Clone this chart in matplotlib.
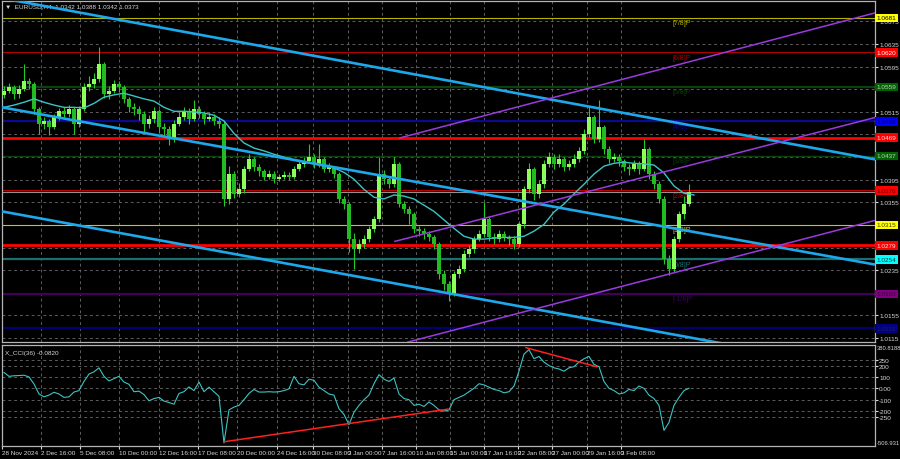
import numpy as np
import matplotlib
matplotlib.use("Agg")
import matplotlib.pyplot as plt
import matplotlib.transforms as mtransforms

plt.rcParams['font.family'] = ['Liberation Sans', 'DejaVu Sans']

# candles, prices in pips above 1.0000 (one candle per slot)
close = [552, 559, 546, 555, 569, 564, 520, 493, 499, 488, 506, 516, 511, 520, 493, 520, 559, 564, 573, 599,
         546, 552, 564, 559, 538, 523, 520, 511, 493, 502, 516, 488, 485, 467, 493, 506, 516, 502, 520, 511,
         502, 506, 499, 493, 361, 405, 370, 378, 414, 432, 417, 410, 400, 405, 396, 400, 403, 400, 414, 423,
         428, 435, 423, 432, 414, 417, 405, 361, 352, 290, 272, 281, 290, 308, 325, 405, 396, 387, 423, 352,
         343, 334, 308, 304, 299, 293, 281, 228, 210, 193, 228, 237, 263, 272, 290, 299, 325, 293, 290, 299,
         293, 290, 281, 316, 378, 414, 370, 387, 423, 435, 423, 432, 417, 423, 432, 446, 476, 506, 467, 488,
         449, 432, 435, 428, 417, 414, 423, 414, 449, 405, 387, 361, 254, 237, 290, 334, 352, 373]
high = [560, 566, 562, 562, 599, 575, 568, 524, 506, 503, 512, 522, 524, 528, 524, 526, 566, 578, 584, 630,
        604, 560, 572, 570, 562, 542, 530, 526, 516, 510, 524, 520, 495, 490, 500, 514, 524, 522, 536, 526,
        516, 514, 512, 506, 498, 420, 410, 390, 420, 440, 436, 422, 414, 412, 410, 406, 410, 408, 420, 430,
        436, 458, 440, 458, 436, 424, 420, 408, 366, 356, 300, 290, 298, 314, 330, 435, 412, 400, 435, 426,
        358, 348, 338, 314, 310, 304, 298, 284, 236, 216, 234, 244, 270, 280, 296, 306, 355, 330, 300, 306,
        304, 298, 296, 322, 384, 424, 418, 394, 430, 444, 440, 440, 436, 430, 440, 452, 484, 525, 510, 536,
        492, 454, 442, 440, 432, 422, 430, 428, 467, 452, 410, 392, 366, 262, 296, 340, 366, 388]
low = [540, 548, 538, 540, 552, 556, 512, 476, 485, 474, 484, 500, 504, 506, 476, 488, 516, 552, 558, 568,
       540, 538, 548, 550, 530, 514, 510, 500, 480, 486, 496, 478, 470, 456, 462, 490, 500, 494, 498, 504,
       494, 498, 492, 486, 348, 352, 362, 364, 372, 410, 410, 402, 394, 396, 390, 392, 396, 394, 396, 410,
       418, 424, 416, 418, 408, 408, 398, 354, 344, 268, 237, 266, 274, 284, 302, 320, 388, 380, 382, 346,
       336, 316, 300, 296, 290, 286, 272, 220, 200, 180, 190, 222, 232, 258, 266, 286, 294, 286, 282, 284,
       286, 280, 272, 276, 310, 372, 360, 362, 380, 418, 414, 418, 410, 412, 418, 426, 440, 470, 460, 462,
       440, 424, 426, 420, 410, 404, 410, 406, 410, 396, 378, 354, 246, 226, 232, 284, 326, 348]

# moving average, one value every second slot
ma = [523, 527, 532, 538, 532, 527, 523, 523, 522, 530, 541, 545, 548, 543, 538, 534, 523, 516, 516, 515,
      513, 509, 499, 477, 460, 451, 446, 440, 435, 430, 426, 423, 419, 416, 408, 396, 378, 364, 361, 368,
      366, 361, 350, 339, 324, 309, 295, 290, 290, 292, 293, 293, 295, 304, 316, 338, 352, 370, 387, 405,
      419, 424, 426, 424, 423, 421, 407, 384, 371, 368]

cci = [140, 105, 110, 112, 115, 100, 38, -50, -75, -60, -35, -50, -80, -75, -33, -20, 60, 125, 145, 180,
       105, 65, 85, 105, 55, 35, -30, -25, -55, -110, -90, -80, -112, -125, -140, -45, -30, 12, -20, 55,
       -30, 10, -30, -70, -480, -190, -165, -150, -100, -45, -10, -33, -33, -30, -33, -30, -20, -5, 105, 40,
       30, 80, 70, 10, -20, -50, -60, -180, -230, -320, -210, -150, -100, -60, 40, 120, 80, 60, 90, -50,
       -90, -100, -150, -140, -160, -120, -150, -190, -200, -190, -100, -80, -60, -30, 0, 40, 30, 10, -10, -20,
       -40, -30, 20, 150, 300, 340, 260, 280, 230, 200, 180, 170, 150, 180, 190, 230, 260, 280, 210, 190,
       60, 0, -20, -50, -40, -10, -20, 20, 0, -60, -90, -150, -370, -300, -150, -80, -20, 0]

date_pos = [-0.4, 7.4, 15.2, 23, 31, 38.8, 46.6, 54.6, 61.8, 68.8, 75.6, 82.4, 89.2, 96, 102.8, 109.6, 116.6, 123.4]
date_lbl = ["28 Nov 2024", "2 Dec 16:00", "5 Dec 08:00", "10 Dec 00:00", "12 Dec 16:00", "17 Dec 08:00",
            "20 Dec 00:00", "24 Dec 16:00", "30 Dec 08:00", "3 Jan 00:00", "7 Jan 16:00", "10 Jan 08:00",
            "15 Jan 00:00", "17 Jan 16:00", "22 Jan 08:00", "27 Jan 00:00", "29 Jan 16:00", "3 Feb 08:00"]

price_ticks = [1.0675, 1.0635, 1.0595, 1.0555, 1.0515, 1.0475, 1.0435, 1.0395, 1.0355, 1.0315, 1.0275,
               1.0235, 1.0195, 1.0155, 1.0115]
# labels that the level boxes hide are left out
price_hidden = [1.0555, 1.0475, 1.0435, 1.0315, 1.0275, 1.0195]

# murrey levels: value, line colour, width, label, box colour, box text colour
levels = [
    (1.0681, '#b4b400', 0.8, '[7/8]P', '#ffff00', 'black'),
    (1.0620, '#b00000', 0.8, '[6/8]P', '#ff0000', 'white'),
    (1.0559, '#0c400c', 1.6, '[5/8]P', '#006400', '#c8c8c8'),
    (1.0498, '#0a0a8c', 1.6, '[4/8]P', '#0000ff', '#000060'),
    (1.0437, '#0c400c', 1.0, '[3/8]P', '#006400', '#c8c8c8'),
    (1.0376, '#c00000', 0.8, '[2/8]P', '#ff0000', '#600000'),
    (1.0315, '#c8c800', 0.8, '[1/8]P', '#ffff00', '#404000'),
    (1.0254, '#1a7070', 1.6, '[0/8]P', '#00ffff', '#004040'),
    (1.0193, '#40005a', 1.6, '[-1/8]P', '#800080', '#30003a'),
    (1.0132, '#00006e', 1.6, '[-2/8]P', '#000080', '#202060'),
]
sr_levels = [1.0469, 1.0279]
last_price = 1.0373

blue_lines = [((-0.4, 1.0716), (174.2, 1.0431)),
              ((-0.4, 1.0523), (174.2, 1.0245)),
              ((-0.4, 1.0339), (174.2, 1.0056))]
purple_lines = [((79.2, 1.0469), (174.2, 1.0690)),
                ((78.2, 1.0286), (174.2, 1.0505)),
                ((80.8, 1.0108), (174.2, 1.0323))]
cci_red = [((44, -470), (88.8, -183)), ((104.4, 357), (118.6, 189))]

GRID = '#5c5c5c'
FG = '#d8d8d8'
FS = 4.6

fig = plt.figure(figsize=(9, 4.6), dpi=100, facecolor='black')
ax = fig.add_axes([0.0022, 0.2543, 0.9700, 0.7413], facecolor='black')
ax2 = fig.add_axes([0.0022, 0.0283, 0.9700, 0.2196], facecolor='black')

cl = np.array(close) / 10000 + 1
hi = np.array(high) / 10000 + 1
lo = np.array(low) / 10000 + 1
op = np.concatenate([[cl[0] - 0.0007], cl[:-1]])
idx = np.arange(len(cl))

ax.set_xlim(-0.4, 174.2)
ax.set_ylim(1.0108, 1.0711)

for p in price_ticks:
    ax.axhline(p, color=GRID, lw=0.7, ls=(0, (3, 3)), zorder=0)
for d in date_pos[1:]:
    ax.axvline(d, color=GRID, lw=0.7, ls=(0, (3, 3)), zorder=0)
    ax2.axvline(d, color=GRID, lw=0.7, ls=(0, (3, 3)), zorder=0)

trans = mtransforms.blended_transform_factory(ax.transAxes, ax.transData)
for val, col, lw, lbl, box, tc in levels:
    ax.axhline(val, color=col, lw=lw, zorder=1)
    ax.text(133.8, val - 0.0002, lbl, color=col, fontsize=FS + 0.4, va='top', ha='left', zorder=2)
ax.axhline(last_price, color='#909090', lw=0.8, zorder=1)
for v in sr_levels:
    ax.axhline(v, color='#ff0000', lw=2.0, zorder=1)

# candles
bull = cl >= op
ax.vlines(idx, lo, hi, color='#22cc22', lw=0.8, zorder=3)
ax.bar(idx[bull], (cl - op)[bull], bottom=op[bull], width=0.75, color='#8cff5a', zorder=4)
ax.bar(idx[~bull], (op - cl)[~bull], bottom=cl[~bull], width=0.75, color='#22bb22', zorder=4)

ax.plot(np.arange(len(ma)) * 2, np.array(ma) / 10000 + 1, color='#3cc4c4', lw=1.0, zorder=5)

for (x0, y0), (x1, y1) in blue_lines:
    ax.plot([x0, x1], [y0, y1], color='#1ea8ec', lw=1.9, zorder=6, solid_capstyle='butt')
for (x0, y0), (x1, y1) in purple_lines:
    ax.plot([x0, x1], [y0, y1], color='#9a3be0', lw=1.1, zorder=6)

ax.yaxis.tick_right()
ax.set_yticks(price_ticks)
ax.set_yticklabels(['' if p in price_hidden else '%.4f' % p for p in price_ticks])
ax.tick_params(axis='y', colors=FG, labelsize=FS, length=2, pad=1)
ax.set_xticks([])
for s in ax.spines.values():
    s.set_color('#b4b4b4')
    s.set_linewidth(0.9)

for val, col, lw, lbl, box, tc in levels:
    ax.text(1.002, val, '%.4f' % val, transform=trans, fontsize=FS, color=tc, va='center', ha='left',
            bbox=dict(boxstyle='square,pad=0.3', fc=box, ec='none'), zorder=10, clip_on=False)
for v in sr_levels:
    ax.text(1.002, v, '%.4f' % v, transform=trans, fontsize=FS, color='#ffe0e0', va='center', ha='left',
            bbox=dict(boxstyle='square,pad=0.3', fc='#ff0000', ec='none'), zorder=10, clip_on=False)

ax.text(0.004, 0.994, '\u25bc  EURUSD,H4  1.0342 1.0388 1.0342 1.0373', transform=ax.transAxes,
        fontsize=FS, color=FG, va='top', ha='left')

# CCI panel
ax2.set_xlim(-0.4, 174.2)
ax2.set_ylim(-506.931, 380.8188)
cci_ticks = [250, 200, 100, 0, -100, -200, -250]
for t in cci_ticks:
    ax2.axhline(t, color=GRID, lw=0.7, ls=(0, (3, 3)), zorder=0)
ax2.plot(idx, cci, color='#3cc4c4', lw=0.8, zorder=3)
for (x0, y0), (x1, y1) in cci_red:
    ax2.plot([x0, x1], [y0, y1], color='#ff2020', lw=1.1, zorder=4)
ax2.yaxis.tick_right()
ax2.set_yticks(cci_ticks)
ax2.set_yticklabels(['250', '200', '100', '0.00', '-100', '-200', '-250'])
ax2.tick_params(axis='y', colors=FG, labelsize=FS, length=2, pad=1)
ax2.text(1.002, 1.0, '380.8188', transform=ax2.transAxes, fontsize=4.2, color=FG, va='top', ha='left',
         clip_on=False)
ax2.text(1.002, 0.03, '-506.931', transform=ax2.transAxes, fontsize=4.2, color=FG, va='center', ha='left',
         clip_on=False)
ax2.set_xticks(date_pos)
ax2.set_xticklabels(date_lbl, ha='left')
ax2.tick_params(axis='x', colors=FG, labelsize=FS, length=2, pad=1)
for s in ax2.spines.values():
    s.set_color('#b4b4b4')
    s.set_linewidth(0.9)
ax2.text(0.004, 0.95, 'X_CCI(36) -0.0820', transform=ax2.transAxes, fontsize=FS, color=FG, va='top', ha='left')

fig.savefig('out.png', dpi=100, facecolor='black')
